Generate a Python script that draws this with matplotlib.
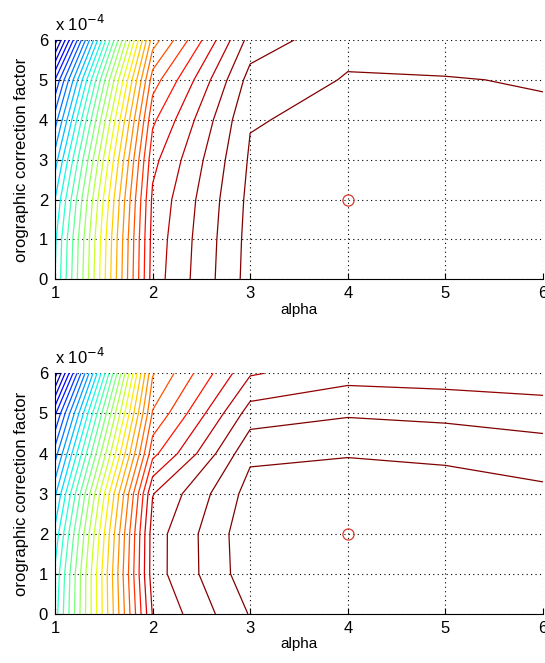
import numpy as np
import matplotlib
matplotlib.use("Agg")
import matplotlib.pyplot as plt
from matplotlib.colors import Normalize
from matplotlib.ticker import FuncFormatter

plt.rcParams['font.family'] = ['Liberation Sans', 'DejaVu Sans']
plt.rcParams['font.size'] = 11

# grid of the two parameters
alpha = [1, 2, 3, 4, 5, 6]
factor = [0, 1e-4, 2e-4, 3e-4, 4e-4, 5e-4, 6e-4]

# upper panel: values along factor for each alpha
top_a1 = [12.0, 11.8, 11.0, 9.5, 7.5, 5.0, 0.5]
top_a2 = [29.5, 29.4, 29.2, 28.7, 27.8, 26.5, 24.5]
top_a3 = [33.4, 33.35, 33.27, 33.13, 32.935, 32.4, 31.4]
top_a4 = [33.5, 33.55, 33.6, 33.5, 33.24, 33.07, 32.73]
top_a5 = [33.45, 33.5, 33.5, 33.45, 33.3, 33.03, 32.7]
top_a6 = [33.35, 33.4, 33.4, 33.3, 33.1, 32.957, 32.4]

# lower panel
bot_a1 = [12.5, 12.2, 11.3, 9.8, 7.5, 4.8, 0.5]
bot_a2 = [30.07, 30.54, 30.52, 29.95, 27.7, 26.1, 24.9]
bot_a3 = [33.07, 33.62, 33.69, 33.4, 32.8, 31.47, 29.9]
bot_a4 = [33.7, 33.9, 33.97, 33.9, 32.9, 31.9, 30.61]
bot_a5 = [33.6, 33.8, 33.85, 33.67, 32.72, 31.77, 30.49]
bot_a6 = [33.3, 33.5, 33.55, 33.25, 32.4, 31.6, 30.27]

levels = list(range(1, 34))

# true parameter value
true_alpha = 4
true_factor = 2e-4

fig = plt.figure(figsize=(5.45, 6.63), dpi=100)
ax1 = fig.add_axes([0.1009, 0.5787, 0.8954, 0.3610])
ax2 = fig.add_axes([0.1009, 0.0739, 0.8954, 0.3630])

panels = [
    (ax1, [top_a1, top_a2, top_a3, top_a4, top_a5, top_a6]),
    (ax2, [bot_a1, bot_a2, bot_a3, bot_a4, bot_a5, bot_a6]),
]

for ax, cols in panels:
    Z = np.array(cols).T
    # colour scale tops out a bit early, so the lines past alpha=2 come out dark red
    norm = Normalize(vmin=Z.min(), vmax=31.5)
    ax.contour(alpha, factor, Z, levels=levels, cmap='jet', norm=norm,
               linewidths=0.9)
    ax.plot(true_alpha, true_factor, 'o', mfc='none', mec='#d83a2a',
            ms=8, mew=0.9)
    ax.set_xlim(1, 6)
    ax.set_ylim(0, 6e-4)
    ax.set_xticks(alpha)
    ax.set_yticks(factor)
    ax.yaxis.set_major_formatter(FuncFormatter(lambda v, p: '%d' % round(v * 1e4)))
    ax.grid(True, color='black', linestyle=(0, (1, 3)), linewidth=0.8)
    ax.spines['top'].set_visible(False)
    ax.spines['right'].set_visible(False)
    ax.tick_params(direction='in', length=4, width=0.8, labelsize=12, pad=5)
    ax.set_xlabel('alpha', fontsize=11, labelpad=1)
    ax.set_ylabel('orographic correction factor', fontsize=12, labelpad=7)
    ax.text(0.0, 1.025, r'x 10$^{-4}$', transform=ax.transAxes,
            fontsize=12, ha='left', va='bottom')

fig.savefig('out.png', dpi=100)
